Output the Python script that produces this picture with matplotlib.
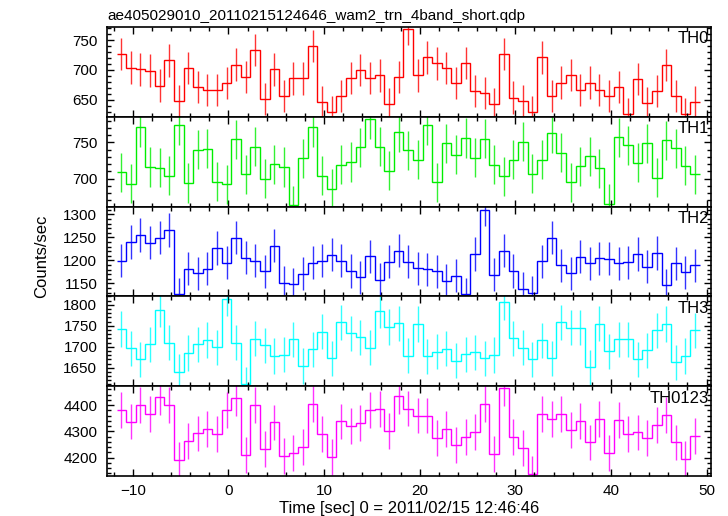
import numpy as np
import matplotlib
matplotlib.use("Agg")
import matplotlib.pyplot as plt
from matplotlib.ticker import MultipleLocator

plt.rcParams['font.family'] = ['Liberation Sans', 'DejaVu Sans']

# === data: count rates per 1 s bin ===
t_start = -11.7
bin_width = 1.0

th0 = [727, 704, 701, 699, 674, 716, 648, 703, 671, 667, 666, 678, 709, 688, 733,
       652, 701, 656, 686, 686, 740, 647, 630, 656, 687, 700, 687, 691, 643, 688,
       768, 691, 721, 711, 703, 678, 712, 665, 662, 643, 727, 654, 648, 630, 721,
       656, 679, 692, 667, 679, 666, 656, 672, 626, 685, 645, 665, 708, 657, 626, 647]
th1 = [709, 693, 771, 716, 715, 704, 774, 694, 740, 741, 696, 692, 754, 706, 744,
       700, 720, 716, 663, 728, 771, 704, 686, 719, 723, 743, 782, 744, 711, 764,
       739, 726, 774, 695, 749, 733, 756, 729, 755, 719, 703, 726, 751, 707, 726,
       763, 736, 695, 717, 731, 714, 665, 757, 746, 722, 749, 701, 753, 742, 718, 706]
th2 = [1199, 1240, 1255, 1238, 1249, 1266, 1126, 1182, 1172, 1182, 1227, 1195, 1249, 1206, 1199,
       1176, 1232, 1151, 1148, 1171, 1195, 1199, 1212, 1199, 1177, 1163, 1209, 1158, 1197, 1221,
       1197, 1183, 1181, 1176, 1156, 1167, 1126, 1214, 1310, 1169, 1221, 1177, 1139, 1130, 1198,
       1249, 1189, 1172, 1208, 1194, 1205, 1204, 1194, 1196, 1214, 1186, 1216, 1146, 1194, 1174, 1189]
th3 = [1742, 1696, 1670, 1706, 1788, 1710, 1640, 1685, 1706, 1716, 1699, 1814, 1710, 1610, 1719,
       1703, 1678, 1681, 1718, 1654, 1694, 1736, 1672, 1758, 1732, 1722, 1698, 1786, 1747, 1756,
       1679, 1754, 1677, 1688, 1695, 1667, 1682, 1687, 1672, 1680, 1806, 1720, 1698, 1670, 1715,
       1672, 1758, 1745, 1745, 1651, 1755, 1689, 1718, 1718, 1670, 1691, 1739, 1754, 1663, 1678, 1739]
th0123 = [4381, 4337, 4401, 4366, 4432, 4401, 4191, 4263, 4292, 4309, 4291, 4381, 4427, 4211, 4400,
          4233, 4334, 4205, 4218, 4240, 4405, 4291, 4202, 4338, 4321, 4332, 4381, 4386, 4301, 4434,
          4387, 4360, 4360, 4275, 4309, 4248, 4278, 4297, 4404, 4214, 4466, 4278, 4238, 4138, 4366,
          4346, 4366, 4304, 4340, 4258, 4346, 4218, 4343, 4290, 4296, 4276, 4325, 4363, 4258, 4196, 4281]

series = [th0, th1, th2, th3, th0123]
errors = [27, 27, 36, 42, 68]
names = ["TH0", "TH1", "TH2", "TH3", "TH0123"]
colors = ["#ff0000", "#00ee00", "#0000ff", "#00ffff", "#ff00ff"]
ylims = [(622, 772), (661.5, 785.5), (1122, 1317), (1606, 1820), (4130, 4472)]
yticks = [[650, 700, 750], [700, 750], [1150, 1200, 1250, 1300],
          [1650, 1700, 1750, 1800], [4200, 4300, 4400]]
yminor = [10, 10, 10, 10, 20]

fig, axes = plt.subplots(5, 1, figsize=(7.28, 5.16), dpi=100, sharex=True)
fig.subplots_adjust(left=0.147, right=0.976, top=0.948, bottom=0.0775, hspace=0)

for ax, vals, err, name, col, yl, yt, ym in zip(axes, series, errors, names, colors,
                                                ylims, yticks, yminor):
    n = len(vals)
    edges = t_start + bin_width * np.arange(n + 1)
    centers = edges[:-1] + bin_width / 2
    ax.stairs(vals, edges, baseline=None, color=col, linewidth=1.0)
    ax.errorbar(centers, vals, yerr=err, fmt="none", ecolor=col, elinewidth=1.0,
                alpha=0.8)
    ax.set_xlim(-12.7, 50.42)
    ax.set_ylim(*yl)
    ax.set_yticks(yt)
    ax.yaxis.set_minor_locator(MultipleLocator(ym))
    ax.xaxis.set_major_locator(MultipleLocator(10))
    ax.xaxis.set_minor_locator(MultipleLocator(2))
    ax.tick_params(which="both", direction="in", top=True, right=True,
                   labelsize=11, width=1.0)
    ax.tick_params(which="major", length=5)
    ax.tick_params(which="minor", length=3)
    ax.tick_params(axis="y", which="major", pad=7)
    ax.tick_params(axis="x", which="major", pad=6)
    for s in ax.spines.values():
        s.set_linewidth(1.2)
    ax.text(0.997, 0.95, name, transform=ax.transAxes, ha="right", va="top",
            fontsize=12)

axes[0].set_title("ae405029010_20110215124646_wam2_trn_4band_short.qdp",
                  loc="left", fontsize=11, pad=5)
axes[-1].set_xlabel("Time [sec] 0 = 2011/02/15 12:46:46", fontsize=12, labelpad=2)
fig.text(0.057, 0.503, "Counts/sec", rotation=90, ha="center", va="center",
         fontsize=12)

plt.savefig("out.png", dpi=100)
